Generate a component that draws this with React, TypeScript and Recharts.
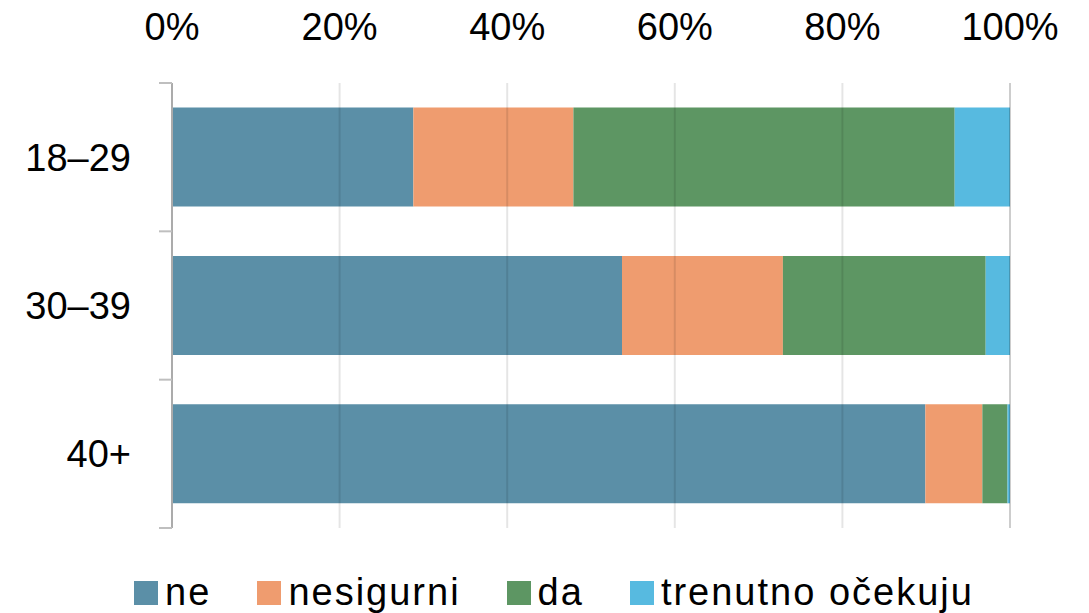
import { BarChart, Bar, XAxis, YAxis, CartesianGrid, Legend } from "recharts";

const ageGroups = ["18–29", "30–39", "40+"];
const neValues = [28.8, 53.7, 89.9];
const nesigurniValues = [19.1, 19.2, 6.8];
const daValues = [45.5, 24.2, 3.0];
const trenutnoValues = [6.6, 2.9, 0.3];
const percentTicks = [0, 20, 40, 60, 80, 100];

const series = [
  { key: "ne", label: "ne", color: "#5B8FA7" },
  { key: "nesigurni", label: "nesigurni", color: "#EF9C6F" },
  { key: "da", label: "da", color: "#5D9663" },
  { key: "trenutno", label: "trenutno očekuju", color: "#57BAE0" },
];

const data = ageGroups.map((group, i) => ({
  group,
  ne: neValues[i],
  nesigurni: nesigurniValues[i],
  da: daValues[i],
  trenutno: trenutnoValues[i],
}));

const FONT = "'Liberation Sans', Arial, sans-serif";
const AXIS_GRAY = "#BFBFBF";
const LABEL_GAP = 41;
const EDGE_TICK = 13;

// category label plus the small tick marks at band edges
function AgeTick(props: any) {
  const { x, y, payload, index, visibleTicksCount } = props;
  const axisX = x + LABEL_GAP;
  const half = payload.offset || 0;
  const isLast = index === (visibleTicksCount ?? ageGroups.length) - 1;
  return (
    <g>
      <text
        x={x}
        y={y}
        dy="0.355em"
        textAnchor="end"
        fill="#000"
        fontSize={38}
        fontFamily={FONT}
      >
        {payload.value}
      </text>
      <line
        x1={axisX - EDGE_TICK}
        x2={axisX}
        y1={y - half}
        y2={y - half}
        stroke={AXIS_GRAY}
        strokeWidth={2}
      />
      {isLast && (
        <line
          x1={axisX - EDGE_TICK}
          x2={axisX}
          y1={y + half}
          y2={y + half}
          stroke={AXIS_GRAY}
          strokeWidth={2}
        />
      )}
    </g>
  );
}

function LegendContent() {
  return (
    <div
      style={{
        display: "flex",
        justifyContent: "center",
        alignItems: "center",
        gap: 46,
        paddingLeft: 86,
        fontFamily: FONT,
        fontSize: 38,
        letterSpacing: 2,
        color: "#000",
      }}
    >
      {series.map((s) => (
        <div key={s.key} style={{ display: "flex", alignItems: "center" }}>
          <span
            style={{
              display: "inline-block",
              width: 24,
              height: 24,
              background: s.color,
              marginRight: 7,
            }}
          />
          <span>{s.label}</span>
        </div>
      ))}
    </div>
  );
}

export default function App() {
  return (
    <div style={{ position: "absolute", left: 0, top: 0, background: "#fff" }}>
      <BarChart
        width={1089}
        height={613}
        data={data}
        layout="vertical"
        barCategoryGap="16.6%"
        margin={{ top: 0, right: 79, bottom: 0, left: 12 }}
      >
        <XAxis
          type="number"
          orientation="top"
          domain={[0, 100]}
          ticks={percentTicks}
          tickFormatter={(v: number) => `${v}%`}
          axisLine={false}
          tickLine={false}
          tickSize={0}
          tickMargin={43}
          height={83}
          interval={0}
          tick={{ fill: "#000", fontSize: 38, fontFamily: FONT }}
        />
        <YAxis
          type="category"
          dataKey="group"
          width={160}
          axisLine={{ stroke: AXIS_GRAY, strokeWidth: 2 }}
          tickLine={false}
          tickSize={0}
          tickMargin={LABEL_GAP}
          interval={0}
          tick={<AgeTick />}
        />
        {series.map((s) => (
          <Bar
            key={s.key}
            dataKey={s.key}
            name={s.label}
            stackId="a"
            fill={s.color}
            isAnimationActive={false}
          />
        ))}
        <CartesianGrid
          horizontal={false}
          stroke="rgba(0,0,0,0.1)"
          strokeWidth={2}
          zIndex={1000}
        />
        <Legend
          verticalAlign="bottom"
          content={<LegendContent />}
          wrapperStyle={{ paddingTop: 43, height: 85, boxSizing: "border-box" }}
        />
      </BarChart>
    </div>
  );
}
